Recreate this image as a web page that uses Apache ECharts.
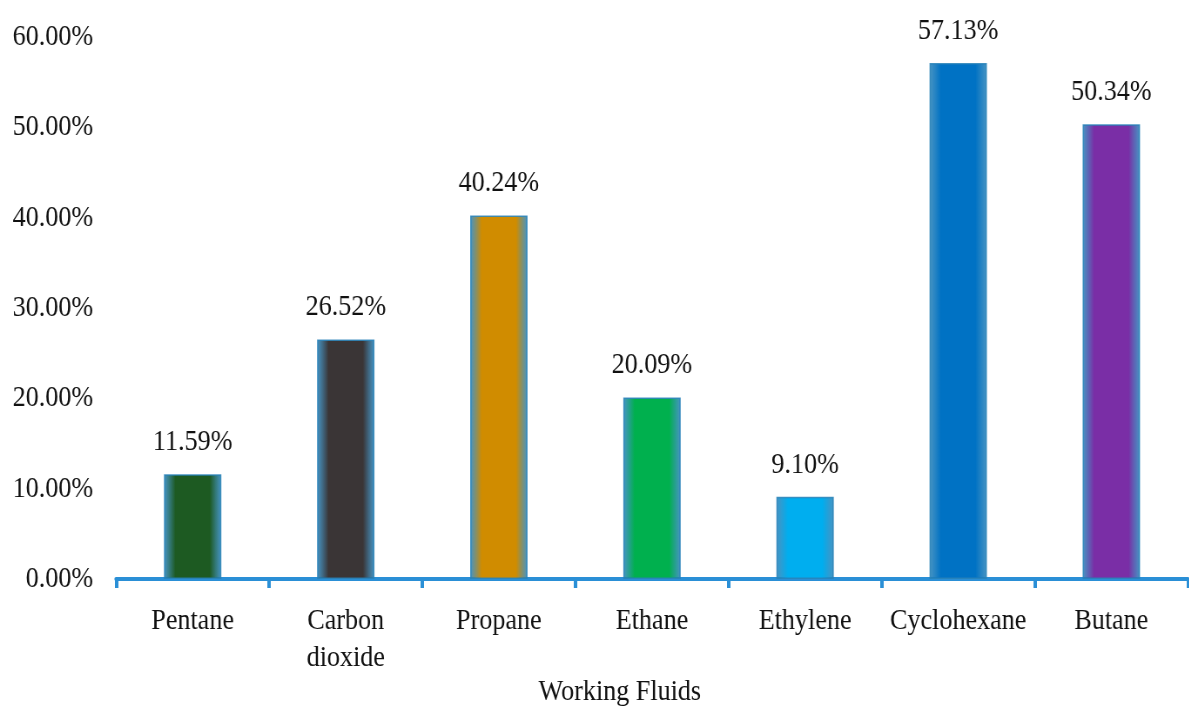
<!DOCTYPE html>
<html>
<head>
<meta charset="utf-8">
<script src="https://cdn.jsdelivr.net/npm/echarts@6/dist/echarts.min.js"></script>
<style>
  html, body { margin: 0; padding: 0; background: #ffffff; overflow: hidden; }
  #wrap { width: 1189px; height: 710px; overflow: hidden; }
  /* the chart is drawn wider and squeezed horizontally, giving the narrow serif lettering */
  #chart { height: 710px; transform-origin: 0 0; }
</style>
</head>
<body>
<div id="wrap"><div id="chart"></div></div>
<script>
// Working fluid names and their percentage values
const fluids = ['Pentane', 'Carbon\ndioxide', 'Propane', 'Ethane', 'Ethylene', 'Cyclohexane', 'Butane'];
const percentages = [11.59, 26.52, 40.24, 20.09, 9.10, 57.13, 50.34];
const yTicks = [0, 10, 20, 30, 40, 50, 60];

// Fill colour for each bar, with a soft bluish rim
const barColors = ['#1d5a22', '#3a3536', '#d08c00', '#00b04e', '#00aeef', '#0072c4', '#7a2ea6'];
const rimColor = 'rgba(40,130,185,0.85)';

const FONT = '"Liberation Serif", "Times New Roman", serif';
const SX = 0.87;               // horizontal squeeze
const W = 1189 / SX;           // drawing width before the squeeze
const px = v => v / SX;        // on-screen x distance -> drawing units

const el = document.getElementById('chart');
el.style.width = W + 'px';
el.style.transform = 'scaleX(' + SX + ')';

function barFill(c) {
  return {
    type: 'linear', x: 0, y: 0, x2: 1, y2: 0,
    colorStops: [
      { offset: 0, color: rimColor },
      { offset: 0.2, color: c },
      { offset: 0.8, color: c },
      { offset: 1, color: rimColor }
    ]
  };
}

const chart = echarts.init(el, null, { renderer: 'canvas', width: W, height: 710 });

chart.setOption({
  backgroundColor: '#ffffff',
  animation: false,
  title: {
    text: 'Working Fluids',
    left: px(615),
    top: 672,
    textAlign: 'center',
    textStyle: { fontFamily: FONT, fontSize: 30, fontWeight: 'normal', color: '#111' }
  },
  grid: { left: px(116), right: px(2), top: 37, bottom: 131, containLabel: false },
  xAxis: {
    type: 'category',
    data: fluids,
    axisLine: { show: true, lineStyle: { color: '#2a8fd6', width: 4 } },
    axisTick: { show: true, alignWithLabel: false, length: 9, lineStyle: { color: '#2a8fd6', width: 4 } },
    axisLabel: {
      fontFamily: FONT, fontSize: 30, color: '#111', margin: 24, lineHeight: 37, interval: 0
    }
  },
  yAxis: {
    type: 'value',
    min: yTicks[0],
    max: yTicks[yTicks.length - 1],
    interval: 10,
    axisLine: { show: false },
    axisTick: { show: false },
    splitLine: { show: false },
    axisLabel: {
      fontFamily: FONT, fontSize: 30, color: '#111', margin: px(23),
      formatter: v => v.toFixed(2) + '%'
    }
  },
  series: [{
    type: 'bar',
    barWidth: '37.5%',
    data: percentages.map((v, i) => ({
      value: v,
      itemStyle: { color: barFill(barColors[i]), borderColor: rimColor, borderWidth: 1.5 }
    })),
    label: {
      show: true,
      position: 'top',
      distance: 17,
      fontFamily: FONT,
      fontSize: 30,
      color: '#111',
      formatter: p => p.value.toFixed(2) + '%'
    }
  }]
});
</script>
</body>
</html>
